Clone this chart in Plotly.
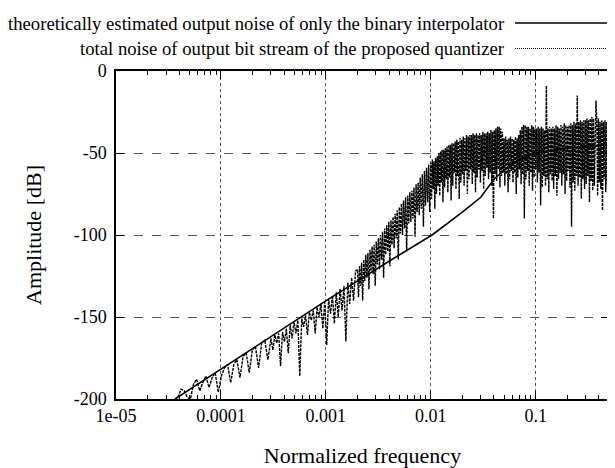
import numpy as np
import plotly.graph_objects as go

# ---------------- data ----------------
x_tick_vals = [1e-5, 1e-4, 1e-3, 1e-2, 1e-1]
x_tick_text = ["1e-05", "0.0001", "0.001", "0.01", "0.1"]
y_tick_vals = [-200, -150, -100, -50, 0]
y_tick_text = ["-200", "-150", "-100", "-50", "0"]

legend_theory = "theoretically estimated output noise of only the binary interpolator"
legend_total = "total noise of output bit stream of the proposed quantizer"

# theoretical noise of the binary interpolator (smooth curve)
theory_freq = [3.65e-5, 1e-4, 1e-3, 4e-3, 0.0103, 0.02, 0.03, 0.04, 0.06, 0.1, 0.2, 0.5]
theory_db = [-200, -181.8, -140.2, -116, -100, -86, -77, -66, -56, -50, -47, -45]

band_a_range = (3.9e-5, 3e-4)
band_a_db = [-199, -194, -195, -199, -200, -191, -188, -195, -190, -186,
             -193, -187, -184, -196, -186, -181, -179, -190, -179, -176,
             -187, -174, -172, -184, -170, -168, -181, -166, -164, -176]

band_b_range = (3e-4, 2e-3)
band_b_db = [-163, -170, -161, -166, -160, -180, -159, -165, -157, -172,
             -155, -163, -153, -160, -152, -186, -151, -156, -149, -161,
             -147, -152, -146, -160, -144, -150, -142, -157, -141, -167,
             -139, -148, -137, -154, -135, -150, -133, -146, -131, -165,
             -129, -142, -126, -140, -122]

band_c_range = (2e-3, 1e-2)
band_c_db = [-121, -138, -119, -131, -117, -140, -115, -128, -112, -126,
             -111, -133, -109, -122, -107, -124, -106, -131, -104, -118,
             -102, -121, -100, -115, -98, -126, -96, -112, -94, -110,
             -92, -119, -91, -106, -89, -108, -87, -102, -85, -115,
             -83, -99, -81, -100, -79, -96, -77, -110, -76, -93,
             -74, -92, -73, -90, -71, -101, -69, -86, -68, -88,
             -65, -84, -63, -95, -61, -82, -59, -80, -57, -86]

band_d_range = (1e-2, 0.5)
band_d_db = [-56, -78, -54, -72, -55, -84, -53, -75, -52, -70,
             -50, -76, -49, -68, -48, -80, -48, -71, -47, -66,
             -46, -74, -45, -65, -45, -79, -44, -70, -44, -62,
             -43, -72, -42, -64, -43, -78, -41, -68, -42, -63,
             -40, -70, -41, -61, -39, -75, -40, -66, -39, -60,
             -39, -69, -38, -62, -39, -74, -38, -65, -39, -60,
             -38, -68, -39, -61, -37, -72, -38, -64, -38, -59,
             -37, -66, -38, -62, -36, -70, -37, -90, -36, -63,
             -35, -67, -34, -60, -34, -71, -35, -64, -37, -62,
             -41, -70, -40, -63, -42, -74, -41, -66, -40, -61,
             -41, -68, -42, -62, -40, -75, -41, -65, -39, -60,
             -36, -69, -34, -63, -33, -90, -33, -66, -34, -61,
             -34, -70, -35, -62, -33, -73, -34, -65, -35, -60,
             -35, -68, -34, -62, -35, -82, -34, -71, -35, -64,
             -36, -70, -9, -66, -35, -74, -34, -63, -35, -67,
             -34, -72, -35, -64, -33, -76, -34, -66, -35, -62,
             -33, -70, -34, -63, -32, -75, -33, -67, -34, -61,
             -33, -71, -32, -95, -33, -68, -31, -73, -32, -64,
             -15, -70, -31, -65, -30, -78, -31, -66, -30, -72,
             -30, -69, -29, -64, -30, -80, -29, -67, -28, -73,
             -29, -70, -28, -18, -30, -76, -29, -68, -31, -72,
             -30, -85, -31, -66, -30, -74, -31, -69, -32, -71]

bands = [(band_a_range, band_a_db), (band_b_range, band_b_db),
         (band_c_range, band_c_db), (band_d_range, band_d_db)]

noise_freq = []
noise_db = []
for k, ((f0, f1), vals) in enumerate(bands):
    last = k == len(bands) - 1
    noise_freq.extend(np.geomspace(f0, f1, len(vals), endpoint=last).tolist())
    noise_db.extend(vals)

# ---------------- figure ----------------
W, H = 615, 468
ML, MR, MT, MB = 108, 14, 63, 70
PW, PH = W - ML - MR, H - MT - MB


def px(x):
    return (x - ML) / PW


def py(y):
    return (H - MB - y) / PH


FONT = "Liberation Serif, Times New Roman, serif"

fig = go.Figure()
fig.add_trace(go.Scatter(
    x=noise_freq, y=noise_db, mode="lines",
    line=dict(color="black", width=1.4, dash="3px,1px"),
    showlegend=False, hoverinfo="skip"))
fig.add_trace(go.Scatter(
    x=theory_freq, y=theory_db, mode="lines",
    line=dict(color="black", width=1.6),
    showlegend=False, hoverinfo="skip"))

# legend drawn gnuplot-style (text left of sample)
for text, ypix, dash, wid in [(legend_theory, 14, "solid", 1.5),
                              (legend_total, 40, "1px,1px", 1)]:
    fig.add_annotation(text=text, xref="paper", yref="paper",
                       x=px(499), y=py(ypix), xanchor="right", yanchor="middle",
                       showarrow=False, font=dict(family=FONT, size=18.7, color="black"))
    fig.add_shape(type="line", xref="paper", yref="paper",
                  x0=px(507), x1=px(612), y0=py(ypix), y1=py(ypix),
                  line=dict(color="black", width=wid, dash=dash))

fig.update_layout(
    width=W, height=H,
    margin=dict(l=ML, r=MR, t=MT, b=MB),
    paper_bgcolor="white", plot_bgcolor="white",
    font=dict(family=FONT, size=18, color="black"),
    showlegend=False,
)
fig.update_xaxes(
    type="log", range=[-5, np.log10(0.5)],
    tickvals=x_tick_vals, ticktext=x_tick_text,
    ticks="inside", ticklen=8, tickcolor="black",
    showline=True, linecolor="black", linewidth=1.5, mirror="ticks",
    showgrid=True, gridcolor="#555555", gridwidth=1, griddash="dot",
    zeroline=False,
    minor=dict(ticks="inside", ticklen=4, tickcolor="black", dtick="D1", showgrid=False),
    title=dict(text="Normalized frequency", standoff=22),
)
fig.update_yaxes(
    range=[-200, 0],
    tickvals=y_tick_vals, ticktext=y_tick_text,
    ticks="inside", ticklen=8, tickcolor="black",
    showline=True, linecolor="black", linewidth=1.5, mirror="ticks",
    showgrid=True, gridcolor="#555555", gridwidth=1, griddash="dash",
    zeroline=False, ticklabelstandoff=4,
    title=dict(text="Amplitude [dB]", standoff=26),
)

fig.write_html("out.html")
